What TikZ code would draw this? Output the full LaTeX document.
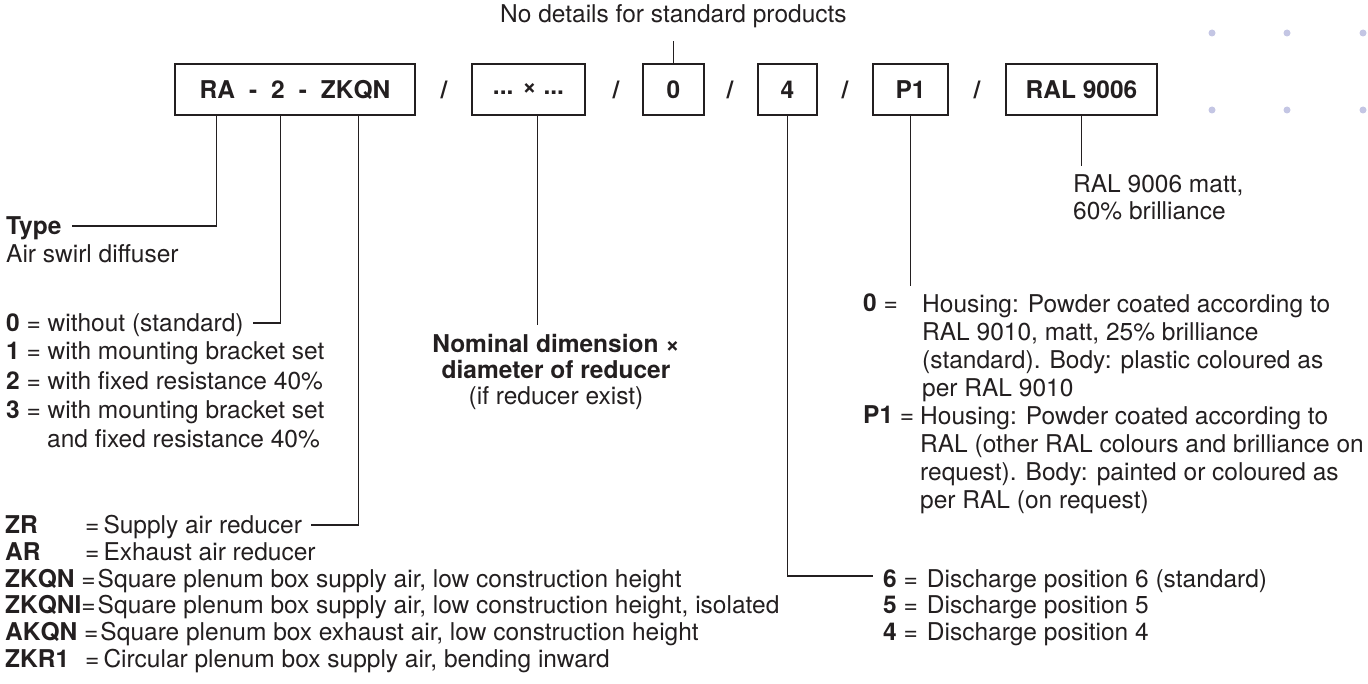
\documentclass[tikz,border=0pt]{standalone}
\usepackage{fontspec}
\setmainfont{TeX Gyre Heros}
\usetikzlibrary{positioning}
\definecolor{ink}{RGB}{35,31,32}
\definecolor{dotblue}{RGB}{196,198,228}

\begin{document}
\begin{tikzpicture}[x=1pt, y=-1pt, text=ink,
  font=\fontsize{24.5}{28.8}\selectfont,
  codebox/.style={draw=ink, line width=1.4pt, minimum height=51pt, inner sep=0pt, font=\fontsize{24.5}{28.8}\selectfont\bfseries},
  lbl/.style={anchor=base west, inner sep=0pt},
  slash/.style={font=\fontsize{24.5}{28.8}\selectfont\bfseries, inner sep=0pt},
  lead/.style={draw=ink, line width=1.2pt}]
			%%%%% START %%%%%
			
			\useasboundingbox (0,0) rectangle (1368,684);
			
			% order code boxes
			\node[codebox, minimum width=240pt] (rabox) at (295,89.5) {RA\hspace{14pt}-\hspace{14pt}2\hspace{14pt}-\hspace{14pt}ZKQN};
			\node[codebox, minimum width=113pt] (dimbox) at (528.5,89.5) {... × ...};
			\node[codebox, minimum width=61pt] (zerobox) at (673.5,89.5) {0};
			\node[codebox, minimum width=59pt] (posbox) at (787.5,89.5) {4};
			\node[codebox, minimum width=75pt] (finbox) at (910.5,89.5) {P1};
			\node[codebox, minimum width=151pt] (ralbox) at (1081.5,89.5) {RAL 9006};
			
			\node[slash] (s1) at (444,89.5) {/};
			\node[slash] (s2) at (616,89.5) {/};
			\node[slash] (s3) at (730,89.5) {/};
			\node[slash] (s4) at (845,89.5) {/};
			\node[slash] (s5) at (977,89.5) {/};
			
			% decoration dots
			\fill[dotblue] (1212,33) circle (3.5);
			\fill[dotblue] (1287,33) circle (3.5);
			\fill[dotblue] (1363,33) circle (3.5);
			\fill[dotblue] (1212,110) circle (3.5);
			\fill[dotblue] (1287,110) circle (3.5);
			\fill[dotblue] (1363,110) circle (3.5);
			
			% top note
			\node[lbl] (nostd) at (500,23) {No details for standard products};
			\draw[lead] (zerobox.north) -- ++(0,-22);
			
			% type
			\node[lbl] (typ) at (6,235) {\textbf{Type}};
			\node[lbl] (swirl) at (6,263) {Air swirl diffuser};
			\draw[lead] ([xshift=42pt]rabox.south west) |- ([xshift=10pt,yshift=9pt]typ.base east);
			
			% accessories
			\node[lbl] (opt0) at (6,332) {\textbf{0} = without (standard)};
			\node[lbl] (opt1) at (6,360) {\textbf{1} = with mounting bracket set};
			\node[lbl] (opt2) at (6,389) {\textbf{2} = with fixed resistance 40\%};
			\node[lbl] (opt3) at (6,418) {\textbf{3} = with mounting bracket set};
			\node[lbl] (opt3b) at (47,447) {and fixed resistance 40\%};
			\draw[lead] ([xshift=106pt]rabox.south west) |- ([xshift=9pt,yshift=9pt]opt0.base east);
			
			% connection
			\node[lbl] (zr) at (5,533) {\makebox[80pt][l]{\textbf{ZR}}=\hspace{4pt}Supply air reducer};
			\node[lbl] (ar) at (5,560) {\makebox[80pt][l]{\textbf{AR}}=\hspace{4pt}Exhaust air reducer};
			\node[lbl] (zkqn) at (5,587) {\textbf{ZKQN} =\hspace{2pt}Square plenum box supply air, low construction height};
			\node[lbl] (zkqni) at (5,613) {\textbf{ZKQNI}=\hspace{2pt}Square plenum box supply air, low construction height, isolated};
			\node[lbl] (akqn) at (5,640) {\textbf{AKQN} =\hspace{2pt}Square plenum box exhaust air, low construction height};
			\node[lbl] (zkr) at (5,667) {\makebox[80pt][l]{\textbf{ZKR1}}=\hspace{4pt}Circular plenum box supply air, bending inward};
			\draw[lead] ([xshift=184pt]rabox.south west) |- ([xshift=9pt,yshift=8pt]zr.base east);
			
			% dimension
			\node[anchor=north, align=center, inner sep=0pt, font=\fontsize{24.5}{26}\selectfont] (dim) at (556,334.5) {\textbf{Nominal dimension ×}\\\textbf{diameter of reducer}\\(if reducer exist)};
			\draw[lead, shorten >=9pt] ([xshift=66pt]dimbox.south west) -- ([xshift=66pt]dimbox.south west |- dim.north);
			
			% finish
			\node[lbl] (h0) at (863,312) {\textbf{0} =};
			\node[anchor=north west, align=left, inner sep=0pt, font=\fontsize{24.5}{28}\selectfont] (h0txt) at (922,294.5) {Housing: Powder coated according to\\RAL 9010, matt, 25\% brilliance\\(standard). Body: plastic coloured as\\per RAL 9010};
			\node[lbl] (hp) at (863,424) {\textbf{P1} =};
			\node[anchor=north west, align=left, inner sep=0pt, font=\fontsize{24.5}{28}\selectfont] (hptxt) at (920,406.5) {Housing: Powder coated according to\\RAL (other RAL colours and brilliance on\\request). Body: painted or coloured as\\per RAL (on request)};
			\draw[lead, shorten >=8pt] (finbox.south) -- (finbox.south |- h0.north);
			
			% colour
			\node[anchor=north west, align=left, inner sep=0pt, font=\fontsize{24.5}{27}\selectfont] (ral) at (1073,174.5) {RAL 9006 matt,\\60\% brilliance};
			\draw[lead, shorten >=8.5pt] (ralbox.south) -- (ralbox.south |- ral.north);
			
			% discharge
			\node[lbl] (pos6) at (883,587) {\textbf{6} =\hspace{9pt}Discharge position 6 (standard)};
			\node[lbl] (pos5) at (883,613) {\textbf{5} =\hspace{9pt}Discharge position 5};
			\node[lbl] (pos4) at (883,640) {\textbf{4} =\hspace{9pt}Discharge position 4};
			\draw[lead] (posbox.south) |- ([xshift=-10pt,yshift=11pt]pos6.base west);
			
			%%%%% END %%%%%
\end{tikzpicture}
\end{document}
